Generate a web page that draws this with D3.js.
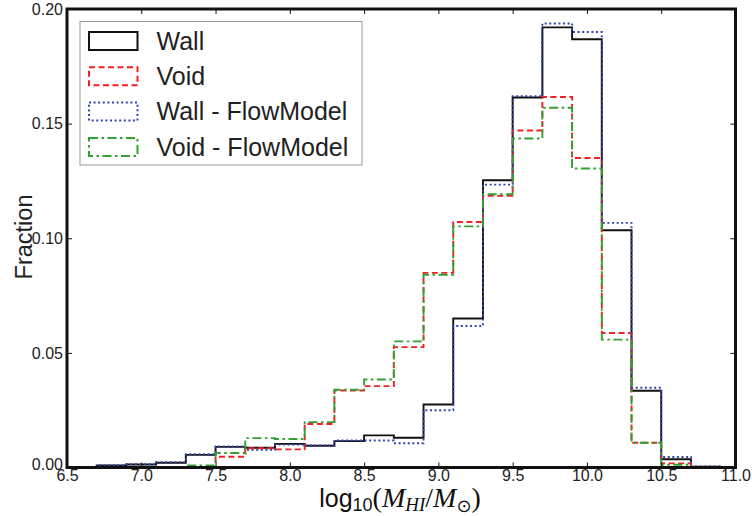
<!DOCTYPE html>
<html>
<head>
<meta charset="utf-8">
<script src="https://cdnjs.cloudflare.com/ajax/libs/d3/7.8.5/d3.min.js"></script>
<style>
body { margin: 0; background: #fff; }
svg { font-family: "Liberation Sans", Arial, Helvetica, sans-serif; }
</style>
</head>
<body>
<svg id="chart" width="752" height="516"></svg>
<script>
// bin edges of the histograms (log10 M_HI)
var binEdges = [6.7, 6.9, 7.1, 7.3, 7.5, 7.7, 7.9, 8.1, 8.3, 8.5, 8.7,
                8.9, 9.1, 9.3, 9.5, 9.7, 9.9, 10.1, 10.3, 10.5, 10.7, 10.9];

// fraction per bin
var wallVals = [0.0009, 0.0013, 0.0021, 0.0055, 0.0090, 0.0086, 0.0103, 0.0095, 0.0115, 0.0140, 0.0130,
                0.0275, 0.0650, 0.1253, 0.1614, 0.1920, 0.1868, 0.1035, 0.0335, 0.0036, 0.0004];
var voidVals = [0, 0, 0, 0.0002, 0.0047, 0.0084, 0.0079, 0.0190, 0.0336, 0.0355, 0.0525,
                0.0849, 0.1071, 0.1185, 0.1470, 0.1616, 0.1350, 0.0587, 0.0108, 0.0018, 0.0001];
var wallFlowVals = [0.0010, 0.0014, 0.0023, 0.0058, 0.0092, 0.0077, 0.0100, 0.0096, 0.0118, 0.0118, 0.0106,
                    0.0250, 0.0617, 0.1234, 0.1620, 0.1937, 0.1900, 0.1067, 0.0348, 0.0046, 0.0005];
var voidFlowVals = [0, 0, 0, 0.0009, 0.0063, 0.0128, 0.0124, 0.0198, 0.0339, 0.0384, 0.0550,
                    0.0841, 0.1052, 0.1192, 0.1435, 0.1569, 0.1304, 0.0558, 0.0108, 0.0012, 0.0002];

var seriesNames = ["Wall", "Void", "Wall - FlowModel", "Void - FlowModel"];
var xTicks = [6.5, 7.0, 7.5, 8.0, 8.5, 9.0, 9.5, 10.0, 10.5, 11.0];
var yTicks = [0.00, 0.05, 0.10, 0.15, 0.20];

// plot box (window.top is read-only, so don't call it "top")
var plotL = 67, plotR = 735.5, plotT = 9, plotB = 467.5;

var svg = d3.select("#chart");

var x = d3.scaleLinear().domain([6.5, 11.0]).range([plotL, plotR]);
var y = d3.scaleLinear().domain([0, 0.2]).range([plotB, plotT]);

var styles = [
    {color: "#111111", dash: null},
    {color: "#ee2222", dash: "6,3.5"},
    {color: "#3344aa", dash: "2,2.6"},
    {color: "#33a033", dash: "9,3.5,2.5,3.5"}
];
var allVals = [wallVals, voidVals, wallFlowVals, voidFlowVals];

function stepPoints(vals){
    var pts = [[binEdges[0], 0]];
    vals.forEach(function(v, i){
        pts.push([binEdges[i], v]);
        pts.push([binEdges[i + 1], v]);
    });
    pts.push([binEdges[binEdges.length - 1], 0]);
    return pts;
}

var line = d3.line()
    .x(function(d){ return x(d[0]); })
    .y(function(d){ return y(d[1]); });

allVals.forEach(function(vals, i){
    svg.append("path")
        .attr("d", line(stepPoints(vals)))
        .attr("fill", "none")
        .attr("stroke", styles[i].color)
        .attr("stroke-width", 1.9)
        .attr("stroke-dasharray", styles[i].dash);
});

// axes, ticks pointing inwards on all four sides
var fmt = d3.format(".1f");
var axB = svg.append("g").attr("transform", "translate(0," + plotB + ")")
    .call(d3.axisBottom(x).tickValues(xTicks).tickFormat(fmt).tickSizeInner(-5).tickSizeOuter(0).tickPadding(2));
var axT = svg.append("g").attr("transform", "translate(0," + plotT + ")")
    .call(d3.axisTop(x).tickValues(xTicks).tickFormat("").tickSizeInner(-5).tickSizeOuter(0));
var axL = svg.append("g").attr("transform", "translate(" + plotL + ",0)")
    .call(d3.axisLeft(y).tickValues(yTicks).tickFormat(d3.format(".2f")).tickSizeInner(-5).tickSizeOuter(0).tickPadding(4));
var axR = svg.append("g").attr("transform", "translate(" + plotR + ",0)")
    .call(d3.axisRight(y).tickValues(yTicks).tickFormat("").tickSizeInner(-5).tickSizeOuter(0));

[axB, axT, axL, axR].forEach(function(g){
    g.select(".domain").remove();
    g.selectAll(".tick line").attr("stroke", "#111").attr("stroke-width", 1);
    g.selectAll("text").attr("font-size", 16).attr("fill", "#222")
        .attr("font-family", "'Liberation Sans', Arial, sans-serif");
});
// lift "0.00" a little so it does not run into "6.5"
axL.selectAll(".tick text").filter(function(d){ return d === 0; }).attr("y", -3);

// frame
svg.append("rect")
    .attr("x", plotL).attr("y", plotT)
    .attr("width", plotR - plotL).attr("height", plotB - plotT)
    .attr("fill", "none").attr("stroke", "#111").attr("stroke-width", 3);

// legend
var lg = svg.append("g");
lg.append("rect")
    .attr("x", 80).attr("y", 21.5).attr("width", 282).attr("height", 143.5)
    .attr("fill", "#fff").attr("stroke", "#999").attr("stroke-width", 1);
seriesNames.forEach(function(name, i){
    var cy = 41 + i * 35.3;
    lg.append("rect")
        .attr("x", 89).attr("y", cy - 9).attr("width", 48.5).attr("height", 18)
        .attr("fill", "none")
        .attr("stroke", styles[i].color)
        .attr("stroke-width", 2)
        .attr("stroke-dasharray", styles[i].dash);
    lg.append("text")
        .attr("x", 156.5).attr("y", cy + 8.7)
        .attr("font-size", 25).attr("fill", "#222")
        .text(name);
});

// axis labels
svg.append("text")
    .attr("transform", "translate(32,237) rotate(-90)")
    .attr("text-anchor", "middle")
    .attr("font-size", 23.5).attr("fill", "#222")
    .text("Fraction");

var xl = svg.append("text")
    .attr("x", 400).attr("y", 507)
    .attr("text-anchor", "middle")
    .attr("fill", "#111");
var serif = "'Liberation Serif', 'DejaVu Serif', serif";
xl.append("tspan").attr("font-size", 25).text("log");
xl.append("tspan").attr("font-size", 18).attr("dy", 4).text("10");
xl.append("tspan").attr("font-size", 28).attr("dy", -4).attr("font-family", serif).text("(");
xl.append("tspan").attr("font-size", 28).attr("font-style", "italic").attr("font-family", serif).text("M");
xl.append("tspan").attr("font-size", 19).attr("dy", 4).attr("font-style", "italic").attr("font-family", serif).text("HI");
xl.append("tspan").attr("font-size", 28).attr("dy", -4).attr("font-family", serif).text("/");
xl.append("tspan").attr("font-size", 28).attr("font-style", "italic").attr("font-family", serif).text("M");
xl.append("tspan").attr("font-size", 18).attr("dy", 5).attr("font-family", "'DejaVu Sans', sans-serif").text("\u2299");
xl.append("tspan").attr("font-size", 28).attr("dy", -5).attr("font-family", serif).text(")");
</script>
</body>
</html>
